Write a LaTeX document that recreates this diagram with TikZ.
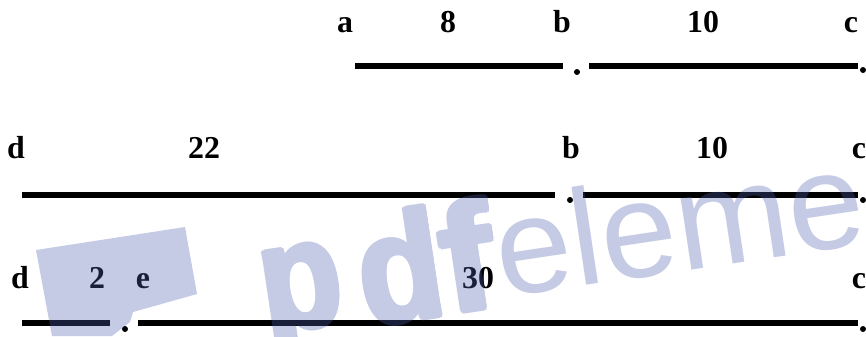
\documentclass[tikz,border=0pt]{standalone}
\usepackage{fontspec}
\setmainfont{Liberation Serif}
\newfontfamily\wmfont{Liberation Sans}
\definecolor{wm}{RGB}{80,95,175}
\tikzset{
  lbl/.style={anchor=base, inner sep=0pt, font=\bfseries\fontsize{32}{32}\selectfont},
  seg/.style={line width=5.5bp, black},
  dotn/.style={circle, fill=black, inner sep=0pt, minimum size=6bp},
  wmtext/.style={inner sep=0pt, text=wm, rotate=8.5, anchor=base west},
  pdffont/.style={font=\wmfont\bfseries\fontsize{154}{154}\selectfont},
  elfont/.style={font=\wmfont\fontsize{137}{137}\selectfont}
}
\newcommand{\wmglyph}[2]{\scalebox{#1}[1]{#2}}
\begin{document}
\begin{tikzpicture}[x=1bp,y=-1bp]
\useasboundingbox (0,0) rectangle (866,336);
% row 1
\node[lbl] (a1) at (345,32) {a};
\node[lbl] (l8) at (448,32) {8};
\node[lbl] (b1) at (562,32) {b};
\node[lbl] (l10a) at (703,32) {10};
\node[lbl] (c1) at (851,32) {c};
\coordinate (r1a) at (355,66);
\coordinate (r1b) at (563,66);
\coordinate (r1c) at (589,66);
\coordinate (r1d) at (858,66);
\draw[seg] (r1a) -- (r1b);
\draw[seg] (r1c) -- (r1d);
\node[dotn] (p1b) at (577,72) {};
\node[dotn] (p1c) at (863,70) {};
% row 2
\node[lbl] (d2) at (16,158) {d};
\node[lbl] (l22) at (204,158) {22};
\node[lbl] (b2) at (571,158) {b};
\node[lbl] (l10b) at (712,158) {10};
\node[lbl] (c2) at (859,158) {c};
\coordinate (r2a) at (22,195);
\coordinate (r2b) at (555,195);
\coordinate (r2c) at (583,195);
\coordinate (r2d) at (858,195);
\draw[seg] (r2a) -- (r2b);
\draw[seg] (r2c) -- (r2d);
\node[dotn] (p2b) at (570,200) {};
\node[dotn] (p2c) at (863,200) {};
% row 3
\node[lbl] (d3) at (20,288) {d};
\node[lbl] (l2) at (97,288) {2};
\node[lbl] (e3) at (143,288) {e};
\node[lbl] (l30) at (478,288) {30};
\node[lbl] (c3) at (859,288) {c};
\coordinate (r3a) at (22,323);
\coordinate (r3b) at (110,323);
\coordinate (r3c) at (138,323);
\coordinate (r3d) at (858,323);
\draw[seg] (r3a) -- (r3b);
\draw[seg] (r3c) -- (r3d);
\node[dotn] (p3e) at (125,329) {};
\node[dotn] (p3c) at (863,329) {};
% watermark
\begin{scope}[transparency group, opacity=0.33]
\clip (0,0) rectangle (866,336);
\fill[wm] (36,250) -- (185,227) -- (197,294) -- (133,312) -- (130,322) -- (112,336) -- (52,336) -- cycle;
\foreach \dx/\dy in {0/0, 2.5/0, -2.5/0, 0/2.5, 0/-2.5, 1.8/1.8, -1.8/-1.8, 1.8/-1.8, -1.8/1.8} {
  \node[wmtext, pdffont] at (267+\dx,334+\dy) {\wmglyph{0.87}{p}};
  \node[wmtext, pdffont] at (366+\dx,327+\dy) {\wmglyph{0.9}{d}};
  \node[wmtext, pdffont] at (448+\dx,314+\dy) {\wmglyph{1.05}{f}};
}
\node[wmtext, elfont] (wmel) at (502,298) {elemen};
\end{scope}
\end{tikzpicture}
\end{document}
